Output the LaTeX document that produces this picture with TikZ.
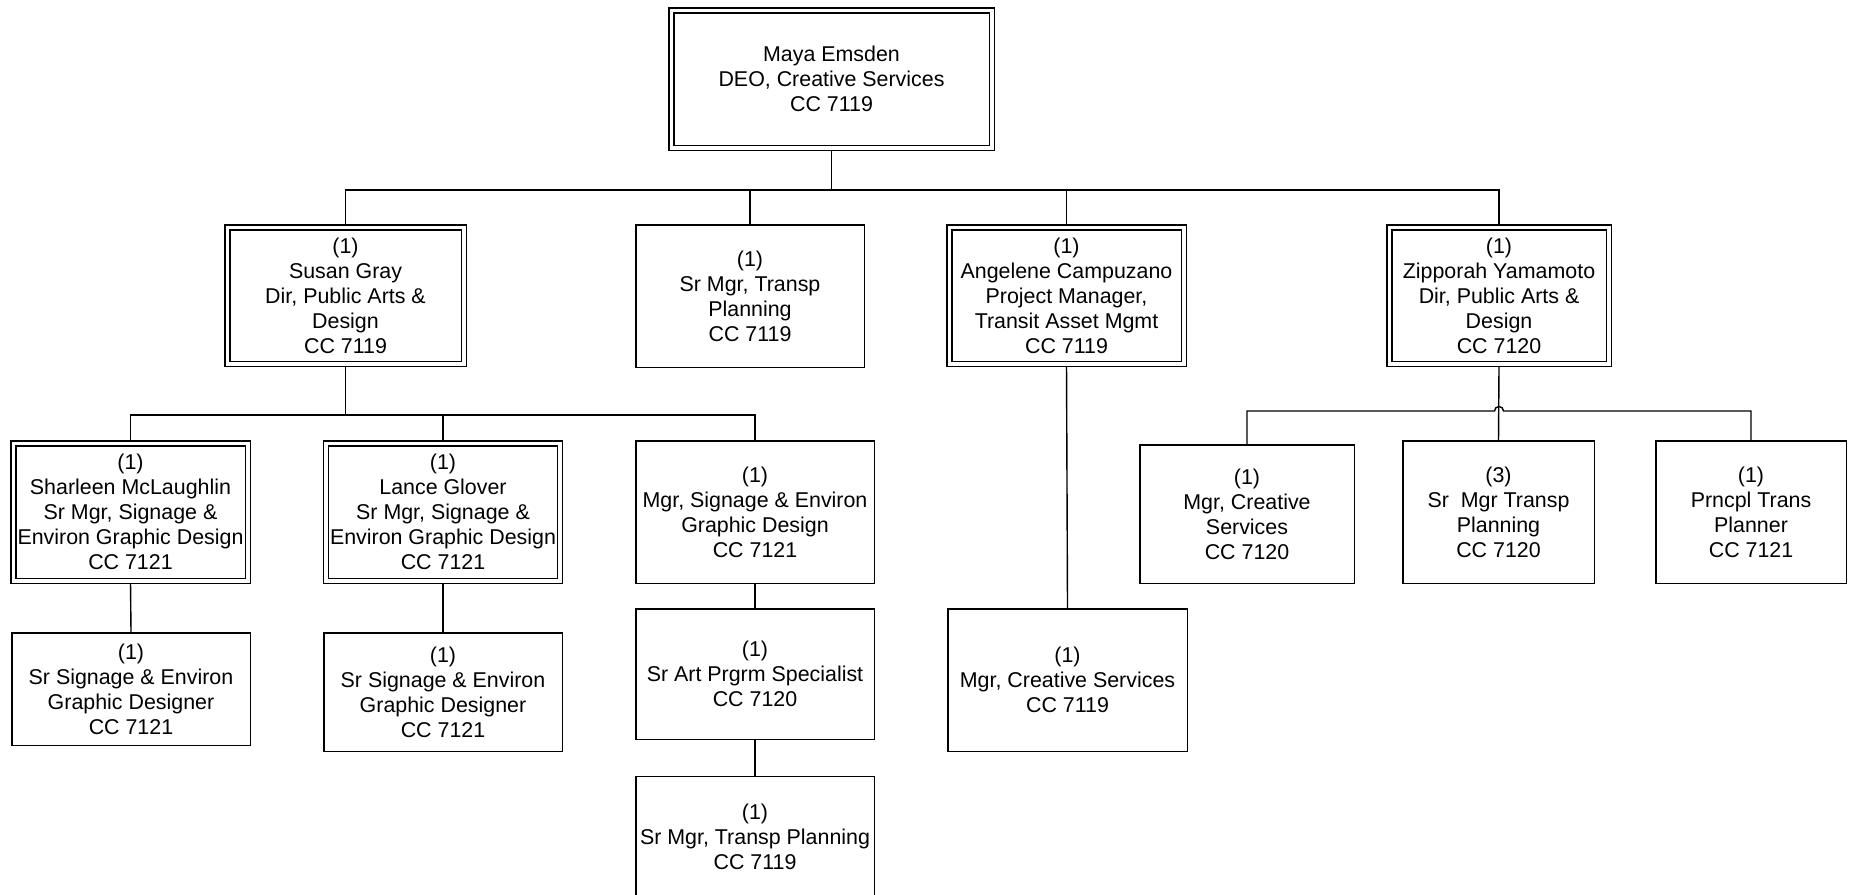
\documentclass[tikz,border=0pt]{standalone}
\usepackage{fontspec}
\setmainfont{Liberation Sans}
\usetikzlibrary{backgrounds}
\begin{document}
\begin{tikzpicture}[x=0.5pt,y=-0.5pt,
  box/.style={draw, line width=0.75pt, align=center, inner sep=0pt,
    font=\fontsize{10.7}{12.5}\selectfont, anchor=center},
  dbox/.style={box, line width=0.75pt, double, double distance=1.75pt},
  link/.style={draw, line width=0.7pt}]
\useasboundingbox (0,0) rectangle (1850,894);
% top
\node[dbox, minimum width=160.25pt, minimum height=68.75pt] (top) at (831.5,79) {Maya Emsden\\DEO, Creative Services\\CC 7119};
% row 1
\node[dbox, minimum width=118.25pt, minimum height=68.25pt] (susan) at (345.5,295.5) {(1)\\Susan Gray\\Dir, Public Arts \&\\Design\\CC 7119};
\node[box, minimum width=114.25pt, minimum height=71.25pt] (srmt) at (750,296) {(1)\\Sr Mgr, Transp\\Planning\\CC 7119};
\node[dbox, minimum width=117.25pt, minimum height=68.25pt] (ang) at (1066.5,295.5) {(1)\\Angelene Campuzano\\Project Manager,\\Transit Asset Mgmt\\CC 7119};
\node[dbox, minimum width=109.75pt, minimum height=68.25pt] (zipp) at (1499,295.5) {(1)\\Zipporah Yamamoto\\Dir, Public Arts \&\\Design\\CC 7120};
% row 2 (Susan)
\node[dbox, minimum width=117.25pt, minimum height=68.75pt] (shar) at (130.5,512) {(1)\\Sharleen McLaughlin\\Sr Mgr, Signage \&\\Environ Graphic Design\\CC 7121};
\node[dbox, minimum width=117pt, minimum height=68.75pt] (lance) at (443,512) {(1)\\Lance Glover\\Sr Mgr, Signage \&\\Environ Graphic Design\\CC 7121};
\node[box, minimum width=119.25pt, minimum height=71.25pt] (mgrsig) at (755,512) {(1)\\Mgr, Signage \& Environ\\Graphic Design\\CC 7121};
% row 3
\node[box, minimum width=119.25pt, minimum height=56.25pt] (srsig1) at (131,689) {(1)\\Sr Signage \& Environ\\Graphic Designer\\CC 7121};
\node[box, minimum width=119.25pt, minimum height=59.25pt] (srsig2) at (443,692) {(1)\\Sr Signage \& Environ\\Graphic Designer\\CC 7121};
\node[box, minimum width=119.25pt, minimum height=65.25pt] (srart) at (755,674) {(1)\\Sr Art Prgrm Specialist\\CC 7120};
\node[box, minimum width=119.25pt, minimum height=60pt] (srmtp) at (755,836.5) {(1)\\Sr Mgr, Transp Planning\\CC 7119};
\node[box, minimum width=119.75pt, minimum height=71.25pt] (angc) at (1067.5,680) {(1)\\Mgr, Creative Services\\CC 7119};
% Zipporah children
\node[box, minimum width=107.25pt, minimum height=69.25pt] (mc) at (1247,514) {(1)\\Mgr, Creative\\Services\\CC 7120};
\node[box, minimum width=95.75pt, minimum height=71.25pt] (sm3) at (1498.5,512) {(3)\\Sr\ \ Mgr Transp\\Planning\\CC 7120};
\node[box, minimum width=95.25pt, minimum height=71.25pt] (pr) at (1751,512) {(1)\\Prncpl Trans\\Planner\\CC 7121};
% connectors
\coordinate (b0) at (831.5,190);
\coordinate (b1) at (345.5,415);
\coordinate (hopL) at (1494.5,411);
\begin{scope}[on background layer]
\fill[white] (0,0) rectangle (1850,894);
\draw[link] (top.south) -- (b0);
\draw[link] (b0) -| (susan.north);
\draw[link] (b0) -| (srmt.north);
\draw[link] (b0) -| (ang.north);
\draw[link] (b0) -| (zipp.north);
\draw[link] (susan.south) -- (b1);
\draw[link] (b1) -| (shar.north);
\draw[link] (b1) -| (lance.north);
\draw[link] (b1) -| (mgrsig.north);
\draw[link] (shar.south) -- (srsig1.north);
\draw[link] (lance.south) -- (srsig2.north);
\draw[link] (mgrsig.south) -- (srart.north);
\draw[link] (srart.south) -- (srmtp.north);
\draw[link] (ang.south) -- (angc.north);
\draw[link] (zipp.south) -- (sm3.north);
\draw[link] (mc.north) |- (hopL) arc[start angle=180, end angle=0, radius=2.25pt] -| (pr.north);
\end{scope}
\end{tikzpicture}
\end{document}
